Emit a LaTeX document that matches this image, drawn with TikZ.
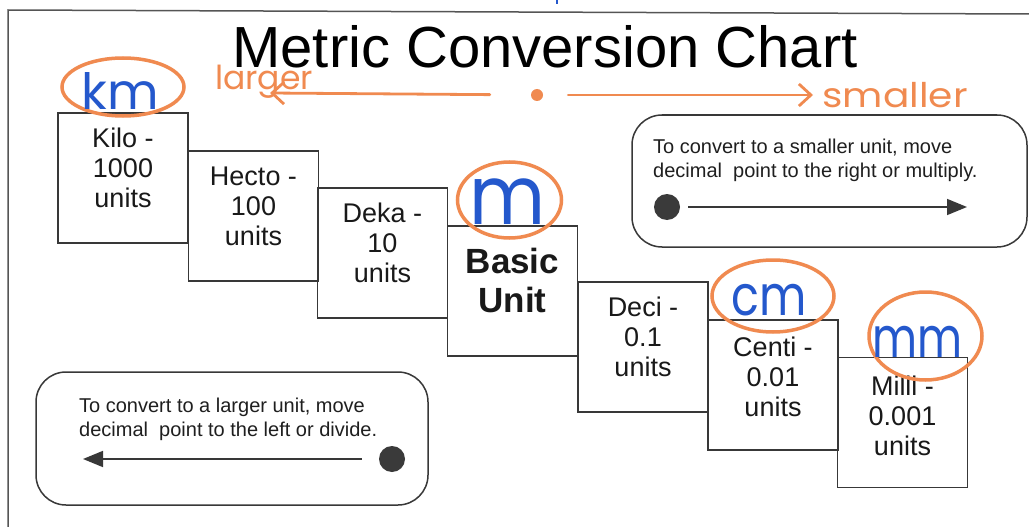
\documentclass[tikz,border=0pt]{standalone}
\usepackage{fontspec}
\setmainfont{Liberation Sans}
\newfontfamily\handfont{Poppins}
\usetikzlibrary{arrows.meta,shapes.geometric}
\definecolor{boxgray}{HTML}{383838}
\definecolor{framegray}{HTML}{555555}
\definecolor{dotgray}{HTML}{3A3A3A}
\definecolor{penorange}{HTML}{F08A50}
\definecolor{penblue}{HTML}{2458CC}
\begin{document}
\begin{tikzpicture}[x=1pt,y=-1pt,
  stepbox/.style={draw=boxgray,line width=1.8pt,minimum width=130pt,minimum height=130pt,inner sep=0pt},
  unittext/.style={anchor=north,inner sep=0pt,align=center,font=\fontsize{27}{30}\selectfont,text=black!90},
  notebox/.style={draw=boxgray,line width=1.5pt,rounded corners=30pt,inner sep=0pt},
  notetext/.style={anchor=north west,inner sep=0pt,align=left,font=\fontsize{20}{24}\selectfont,text=black!88},
  bigdot/.style={circle,fill=dotgray,minimum size=26pt,inner sep=0pt},
  notearrow/.style={draw=boxgray,line width=1.6pt,-{Triangle[length=20pt,width=16pt]}},
  pencircle/.style={draw=penorange,line width=3.5pt,ellipse,inner sep=0pt},
  bluepen/.style={text=penblue,inner sep=0pt,anchor=base,text depth=0pt,transform shape},
  orangepen/.style={text=penorange,inner sep=0pt,anchor=base,transform shape},
  penarrow/.style={draw=penorange,line width=2.8pt,line cap=round}
]
\useasboundingbox (0,0) rectangle (1029,527);
\fill[white] (0,0) rectangle (1029,527);
% frame
\draw[framegray,line width=1.5pt] (8,527) -- (8,10) -- (1029,14);
\draw[penblue,line width=2pt] (557,0) -- (557,4);
% title
\node[anchor=base,inner sep=0pt,text depth=0pt,font=\fontsize{58}{60}\selectfont] (title) at (545,68) {Metric Conversion Chart};
% step boxes
\node[stepbox] (kilo) at (123,178) {};
\node[stepbox] (hecto) at (253.5,216) {};
\node[stepbox] (deka) at (382.5,253) {};
\node[stepbox] (basic) at (512.5,291) {};
\node[stepbox] (deci) at (643,347) {};
\node[stepbox] (centi) at (773,385) {};
\node[stepbox] (milli) at (902.5,422.5) {};
\node[unittext] (kilot) at ([yshift=-16pt]kilo.north) {Kilo -\\1000\\units};
\node[unittext] (hectot) at ([yshift=-17pt]hecto.north) {Hecto -\\100\\units};
\node[unittext] (dekat) at ([yshift=-16pt]deka.north) {Deka -\\10\\units};
\node[unittext,font=\fontsize{35}{39}\selectfont\bfseries] (basict) at ([yshift=-23pt]basic.north) {Basic\\Unit};
\node[unittext] (decit) at ([yshift=-16pt]deci.north) {Deci -\\0.1\\units};
\node[unittext] (centit) at ([yshift=-18pt]centi.north) {Centi -\\0.01\\units};
\node[unittext] (millit) at ([yshift=-19pt]milli.north) {Milli -\\0.001\\units};
% note boxes
\node[notebox,minimum width=395pt,minimum height=132pt] (rbox) at (829.5,181) {};
\node[notetext] (rtext) at (653,139) {To convert to a smaller unit, move\\decimal\ \ point to the right or multiply.};
\node[bigdot] (rdot) at (667,207) {};
\coordinate (rtip) at (967,207);
\draw[notearrow,shorten <=8pt] (rdot) -- (rtip);
\node[notebox,minimum width=392pt,minimum height=133pt] (lbox) at (232,438.5) {};
\node[notetext] (ltext) at (79,398) {To convert to a larger unit, move\\decimal\ \ point to the left or divide.};
\node[bigdot] (ldot) at (392,459) {};
\coordinate (ltip) at (83,459);
\draw[notearrow,shorten <=17pt] (ldot) -- (ltip);
% handwriting: circles
\node[pencircle,minimum width=122pt,minimum height=58pt] (kmc) at (123,87) {};
\node[pencircle,minimum width=104pt,minimum height=76pt] (mc) at (509.5,200) {};
\node[pencircle,minimum width=122pt,minimum height=72pt] (cmc) at (773,296) {};
\node[pencircle,minimum width=113pt,minimum height=88pt] (mmc) at (925.5,336) {};
% handwriting: blue unit labels
\node[bluepen,font=\handfont\fontsize{50}{50}\selectfont] (km) at (120,110) {km};
\node[bluepen,font=\handfont\fontsize{82}{82}\selectfont,xscale=0.9] (m) at (508,224) {m};
\node[bluepen,font=\handfont\fontsize{56}{56}\selectfont,xscale=0.82] (cm) at (769,315) {cm};
\node[bluepen,font=\handfont\fontsize{56}{56}\selectfont,xscale=0.78] (mm) at (917,357) {mm};
% handwriting: orange arrows
\node[orangepen,font=\handfont\fontsize{33}{33}\selectfont] (larger) at (264,90) {larger};
\node[orangepen,font=\handfont\fontsize{34}{34}\selectfont,xscale=1.15] (smaller) at (895,107) {smaller};
\node[circle,fill=penorange,minimum size=12pt,inner sep=0pt] (odot) at (537,95) {};
\coordinate (ltipo) at (270,93);
\coordinate (rtipo) at (813,95);
\draw[penarrow,-{Straight Barb[length=12pt,width=22pt]},shorten <=41pt] (odot) -- (ltipo);
\draw[penarrow,-{Straight Barb[length=12pt,width=22pt]},shorten <=25pt] (odot) -- (rtipo);
\end{tikzpicture}
\end{document}
